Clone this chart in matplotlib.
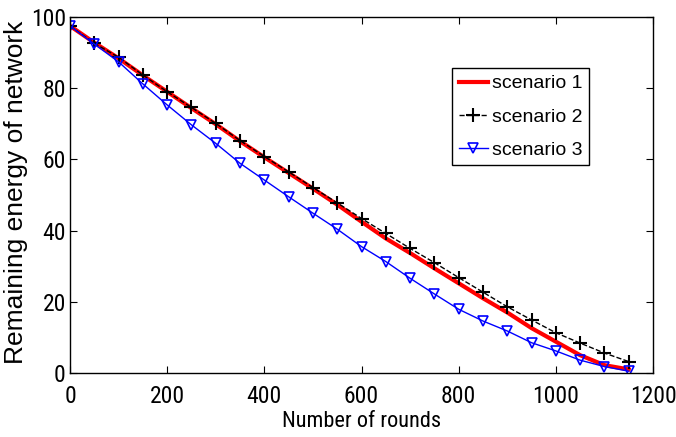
import numpy as np
import matplotlib.pyplot as plt
from matplotlib import font_manager

# rounds sampled every 50
rounds = np.arange(0, 1151, 50)

# remaining energy per scenario
energy_s1 = [97.5, 92.8, 88.4, 83.6, 79.0, 74.4, 69.9, 65.1, 60.6, 56.2, 51.8, 47.3,
             42.5, 37.8, 33.7, 29.4, 25.2, 21.0, 17.0, 12.6, 8.8, 5.0, 2.2, 1.0]
energy_s2 = [97.5, 92.6, 88.7, 83.7, 79.0, 74.6, 70.1, 65.3, 60.8, 56.5, 52.1, 47.8,
             43.4, 39.2, 35.0, 31.0, 26.8, 22.7, 18.6, 14.9, 11.3, 8.4, 5.6, 3.2]
energy_s3 = [97.5, 92.4, 87.4, 81.2, 75.3, 69.7, 64.5, 58.9, 54.2, 49.5, 44.9, 40.4,
             35.5, 31.3, 26.6, 22.2, 17.9, 14.6, 11.8, 8.5, 6.2, 3.6, 1.8, 0.5]

xticks = [0, 200, 400, 600, 800, 1000, 1200]
yticks = [0, 20, 40, 60, 80, 100]

# pick a narrow face for the tick numbers if one is around
fonts = font_manager.fontManager.ttflist
names = {f.name for f in fonts}
narrow = dict(family='Liberation Sans', size=15)
if 'Liberation Sans Narrow' in names:
    narrow = dict(family='Liberation Sans Narrow', size=17)
elif 'Roboto Condensed' in names:
    narrow = dict(family='Roboto Condensed', size=17)
elif any(f.name == 'DejaVu Sans' and f.stretch == 'condensed' for f in fonts):
    narrow = dict(family='DejaVu Sans', stretch='condensed', size=16)

fig = plt.figure(figsize=(6.76, 4.37), dpi=100)
ax = fig.add_axes([0.1036, 0.1465, 0.8624, 0.8145])

ax.plot(rounds, energy_s1, color='red', lw=3, label='scenario 1')
ax.plot(rounds, energy_s2, color='black', ls='--', lw=1, marker='+', ms=10, mew=1.5,
        label='scenario 2')
ax.plot(rounds, energy_s3, color='blue', lw=1, marker='v', ms=7, mfc='none', mew=1.2,
        label='scenario 3')

ax.set_xlim(0, 1200)
ax.set_ylim(0, 100)
ax.set_xticks(xticks)
ax.set_yticks(yticks)
ax.tick_params(direction='in', top=True, right=True, length=5, width=0.8)
ax.tick_params(axis='x', pad=9)
ax.tick_params(axis='y', pad=3)
for lab in ax.get_xticklabels() + ax.get_yticklabels():
    lab.set(**narrow)
for s in ax.spines.values():
    s.set_linewidth(1)

xl = dict(narrow)
xl['size'] = xl['size'] - 1
ax.set_xlabel('Number of rounds', labelpad=2, **xl)
ax.set_ylabel('Remaining energy of network', fontfamily='Liberation Sans', fontsize=19)
ax.yaxis.set_label_coords(-0.072, 0.508)

leg = ax.legend(loc='upper left', bbox_to_anchor=(0.655, 0.857), fancybox=False,
                framealpha=1, edgecolor='black', prop={'family': 'Liberation Sans', 'size': 14},
                handlelength=1.5, handletextpad=0.2, borderpad=0.35, labelspacing=0.8,
                borderaxespad=0)
leg.get_frame().set_linewidth(1)

fig.savefig('out.png', dpi=100)
